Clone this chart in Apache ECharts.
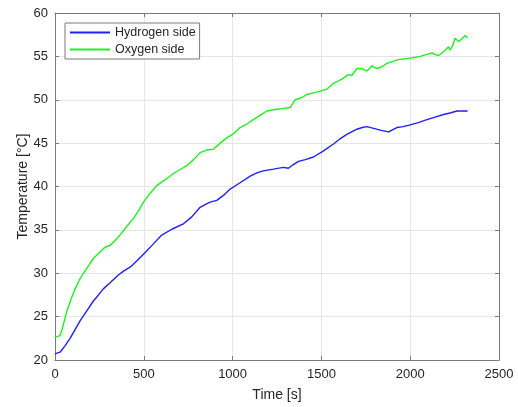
<!DOCTYPE html>
<html>
<head>
<meta charset="utf-8">
<script src="https://cdn.jsdelivr.net/npm/echarts@6/dist/echarts.min.js"></script>
<style>
  html, body { margin: 0; padding: 0; background: #fff; }
  #chart { width: 518px; height: 407px; }
</style>
</head>
<body>
<div id="chart"></div>
<script>
// Hydrogen side temperature
const h2Time = [0, 28, 55, 85, 113, 141, 180, 216, 245, 272, 310, 357, 390, 423, 460, 498, 550, 601, 660, 723,
    770, 817, 845, 873, 911, 950, 986, 1040, 1099, 1140, 1173, 1230, 1286, 1314, 1340, 1371, 1410, 1455, 1512,
    1568, 1605, 1643, 1700, 1730, 1756, 1794, 1831, 1878, 1925, 1960, 2000, 2050, 2094, 2140, 2188, 2230, 2263,
    2300, 2323];
const h2Temp = [20.7, 20.9, 21.6, 22.5, 23.5, 24.5, 25.7, 26.8, 27.5, 28.2, 28.9, 29.8, 30.3, 30.7, 31.4, 32.2,
    33.3, 34.4, 35.1, 35.7, 36.5, 37.6, 37.9, 38.2, 38.4, 39.0, 39.7, 40.4, 41.2, 41.6, 41.8, 42.0, 42.2, 42.1,
    42.5, 42.9, 43.1, 43.4, 44.1, 44.9, 45.5, 46.0, 46.6, 46.8, 46.9, 46.7, 46.5, 46.3, 46.8, 46.9, 47.1, 47.4,
    47.7, 48.0, 48.3, 48.5, 48.7, 48.7, 48.7];

// Oxygen side temperature
const o2Time = [0, 28, 40, 66, 90, 113, 137, 160, 190, 216, 250, 282, 310, 340, 366, 400, 441, 470, 498, 535,
    573, 600, 629, 667, 700, 742, 780, 817, 854, 892, 930, 967, 1000, 1042, 1080, 1117, 1155, 1193, 1249, 1286,
    1324, 1352, 1385, 1418, 1455, 1493, 1530, 1568, 1600, 1624, 1652, 1671, 1700, 1730, 1756, 1784, 1812, 1840,
    1869, 1900, 1925, 1960, 2000, 2030, 2056, 2090, 2122, 2140, 2160, 2190, 2216, 2225, 2240, 2253, 2272, 2290,
    2310, 2323];
const o2Temp = [22.6, 22.8, 23.5, 25.6, 27.0, 28.2, 29.2, 30.0, 30.9, 31.7, 32.4, 33.0, 33.2, 33.8, 34.4, 35.3,
    36.3, 37.2, 38.2, 39.2, 40.1, 40.5, 40.9, 41.5, 41.9, 42.4, 43.1, 43.9, 44.2, 44.3, 45.0, 45.6, 46.0, 46.8,
    47.2, 47.7, 48.2, 48.7, 48.9, 49.0, 49.1, 50.0, 50.2, 50.6, 50.8, 51.0, 51.2, 51.9, 52.2, 52.5, 52.9, 52.8,
    53.6, 53.6, 53.3, 53.9, 53.6, 53.8, 54.2, 54.4, 54.6, 54.7, 54.8, 54.9, 55.0, 55.2, 55.4, 55.2, 55.1, 55.6,
    56.1, 55.7, 56.3, 57.1, 56.7, 57.0, 57.4, 57.1];

const seriesNames = ["Hydrogen side", "Oxygen side"];
const xMin = 0, xMax = 2500, xStep = 500;
const yMin = 20, yMax = 60, yStep = 5;

const font = "Liberation Sans, Arial, sans-serif";
const axisGray = "#7a7a7a";

function pairs(ts, vs) {
    return ts.map((t, i) => [t, vs[i]]);
}

function frameAxis(extra) {
    return Object.assign({
        axisLine: { show: true, onZero: false, lineStyle: { color: axisGray, width: 1 } },
        axisTick: { show: true, inside: true, length: 4, lineStyle: { color: axisGray } },
        axisLabel: { show: false },
        splitLine: { show: false }
    }, extra);
}

const chart = echarts.init(document.getElementById("chart"), null, { renderer: "canvas" });

chart.setOption({
    backgroundColor: "#ffffff",
    animation: false,
    textStyle: { fontFamily: font },
    grid: { left: 55, right: 19, top: 13, bottom: 45, containLabel: false },
    legend: {
        left: 65,
        top: 23,
        orient: "vertical",
        data: seriesNames,
        icon: "rect",
        itemWidth: 40,
        itemHeight: 2,
        itemGap: 4,
        padding: [3, 4, 3, 5],
        backgroundColor: "#ffffff",
        borderColor: "#7a7a7a",
        borderWidth: 1,
        borderRadius: 0,
        textStyle: { fontSize: 12.5, color: "#262626", fontFamily: font }
    },
    xAxis: [
        {
            type: "value",
            min: xMin, max: xMax, interval: xStep,
            name: "Time [s]",
            nameLocation: "middle",
            nameGap: 28,
            nameMoveOverlap: false,
            nameTextStyle: { fontSize: 14, color: "#262626" },
            axisLine: { show: true, onZero: false, lineStyle: { color: axisGray } },
            axisTick: { show: true, inside: true, length: 4, lineStyle: { color: axisGray } },
            axisLabel: { fontSize: 13, color: "#262626", margin: 8, formatter: v => String(v) },
            splitLine: { show: true, lineStyle: { color: "#e6e6e6", width: 1 } }
        },
        frameAxis({ type: "value", position: "top", min: xMin, max: xMax, interval: xStep })
    ],
    yAxis: [
        {
            type: "value",
            min: yMin, max: yMax, interval: yStep,
            name: "Temperature [°C]",
            nameLocation: "middle",
            nameGap: 25,
            nameMoveOverlap: false,
            nameTextStyle: { fontSize: 14, color: "#262626" },
            axisLine: { show: true, onZero: false, lineStyle: { color: axisGray } },
            axisTick: { show: true, inside: true, length: 4, lineStyle: { color: axisGray } },
            axisLabel: { fontSize: 13, color: "#262626", margin: 7 },
            splitLine: { show: true, lineStyle: { color: "#e6e6e6", width: 1 } }
        },
        frameAxis({ type: "value", position: "right", min: yMin, max: yMax, interval: yStep })
    ],
    series: [
        {
            name: seriesNames[0],
            type: "line",
            data: pairs(h2Time, h2Temp),
            showSymbol: false,
            symbol: "none",
            color: "#1f1fff",
            lineStyle: { width: 1.4, color: "#1f1fff" }
        },
        {
            name: seriesNames[1],
            type: "line",
            data: pairs(o2Time, o2Temp),
            showSymbol: false,
            symbol: "none",
            color: "#1ff01f",
            lineStyle: { width: 1.4, color: "#1ff01f" }
        }
    ]
});
</script>
</body>
</html>
